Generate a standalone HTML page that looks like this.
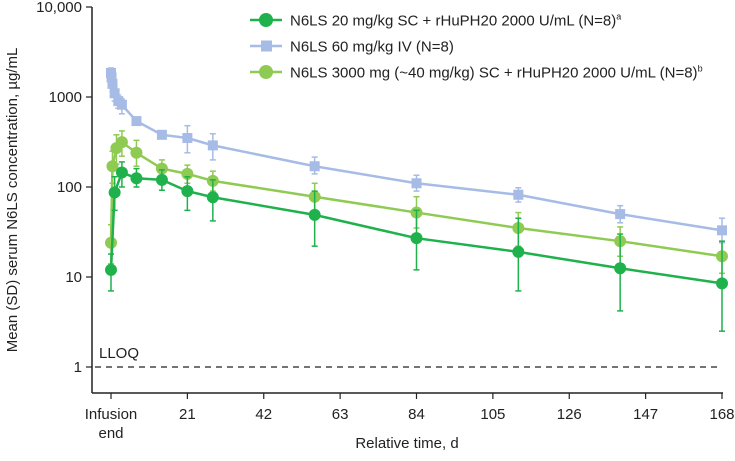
<!DOCTYPE html>
<html><head><meta charset="utf-8"><style>
body{margin:0;background:#fff;font-family:"Liberation Sans",Arial,sans-serif}
svg text{font-family:"Liberation Sans",Arial,sans-serif}
</style></head><body>
<svg id="chart" width="735" height="456" viewBox="0 0 735 456" xmlns="http://www.w3.org/2000/svg"></svg>
<script>
const days = [0, 1, 3, 7, 14, 21, 28, 56, 84, 112, 140, 168];
const sc20 = [12, 87, 145, 125, 120, 90, 77, 49, 27, 19, 12.5, 8.5];
const sc20Lo = [7, 55, 100, 100, 92, 55, 42, 22, 12, 7, 4.2, 2.5];
const sc20Hi = [18, 130, 190, 160, 155, 130, 120, 90, 55, 45, 30, 25];
const ivDays = [0, 0.15, 0.4, 1, 2, 3, 7, 14, 21, 28, 56, 84, 112, 140, 168];
const iv60 = [1850, 1650, 1400, 1100, 900, 820, 540, 380, 350, 290, 170, 110, 82, 50, 33];
const iv60Lo = [1500, 1350, 1150, 900, 750, 650, 500, 350, 240, 200, 140, 90, 68, 40, 24];
const iv60Hi = [2100, 1950, 1650, 1300, 1050, 950, 580, 410, 480, 390, 215, 135, 98, 62, 45];
const scDays = [0, 0.4, 1.5, 3, 7, 14, 21, 28, 56, 84, 112, 140, 168];
const sc3000 = [24, 170, 270, 315, 240, 160, 140, 117, 78, 52, 35, 25, 17];
const sc3000Lo = [14, 110, 180, 220, 170, 120, 110, 90, 55, 35, 22, 17, 11];
const sc3000Hi = [38, 250, 380, 420, 330, 200, 175, 150, 110, 78, 52, 36, 25];
const yTicks = [1, 10, 100, 1000, 10000];
const yTickLabels = ["1", "10", "100", "1000", "10,000"];
const xTicks = [0, 21, 42, 63, 84, 105, 126, 147, 168];

const NS = "http://www.w3.org/2000/svg";
const svg = document.getElementById("chart");
const X = d => 111 + d * (611 / 168);
const Y = v => 367 - Math.log10(v) * 90;
const FS = 15;
function mk(tag, attrs, parent) {
  const e = document.createElementNS(NS, tag);
  for (const k in attrs) e.setAttribute(k, attrs[k]);
  (parent || svg).appendChild(e);
  return e;
}
let g = mk("g", {});


mk("line", {x1: 92, y1: 7, x2: 92, y2: 393, stroke: "#222", "stroke-width": 1.5}, g);
mk("line", {x1: 92, y1: 393, x2: 723, y2: 393, stroke: "#222", "stroke-width": 1.5}, g);
yTicks.forEach((t, i) => {
  mk("line", {x1: 86, y1: Y(t), x2: 92, y2: Y(t), stroke: "#222", "stroke-width": 1.2}, g);
  const tx = mk("text", {x: 82, y: Y(t) + 5, "text-anchor": "end", "font-size": FS, fill: "#222"}, g);
  tx.textContent = yTickLabels[i];
  
  
});
xTicks.forEach(t => {
  mk("line", {x1: X(t), y1: 393, x2: X(t), y2: 399, stroke: "#222", "stroke-width": 1.2}, g);
  const tx = mk("text", {x: X(t), y: 419, "text-anchor": "middle", "font-size": FS, fill: "#222"}, g);
  tx.textContent = t === 0 ? "Infusion" : String(t);
  
  
});
let e2 = mk("text", {x: X(0), y: 438, "text-anchor": "middle", "font-size": FS, fill: "#222"}, g);
e2.textContent = "end";


let xt = mk("text", {x: 407, y: 448, "text-anchor": "middle", "font-size": FS, fill: "#222"});
xt.textContent = "Relative time, d";


let yt = mk("text", {x: 0, y: 0, transform: "translate(17,200) rotate(-90)", "text-anchor": "middle", "font-size": FS, fill: "#222"});
yt.textContent = "Mean (SD) serum N6LS concentration, µg/mL";


let ll = mk("line", {x1: 95, y1: Y(1), x2: 722, y2: Y(1), stroke: "#222", "stroke-width": 1.3, "stroke-dasharray": "6,5"});


let lt = mk("text", {x: 99, y: Y(1) - 9, "font-size": FS, fill: "#222"});
lt.textContent = "LLOQ";



function series(name, xs, vs, lo, hi, color, shape) {
  const sg = mk("g", {});
  
  
  xs.forEach((d, i) => {
    const x = X(d);
    mk("line", {x1: x, y1: Y(lo[i]), x2: x, y2: Y(hi[i]), stroke: color, "stroke-width": 1.5}, sg);
    mk("line", {x1: x - 3, y1: Y(lo[i]), x2: x + 3, y2: Y(lo[i]), stroke: color, "stroke-width": 1.5}, sg);
    mk("line", {x1: x - 3, y1: Y(hi[i]), x2: x + 3, y2: Y(hi[i]), stroke: color, "stroke-width": 1.5}, sg);
  });
  mk("polyline", {points: xs.map((d, i) => X(d) + "," + Y(vs[i])).join(" "), fill: "none", stroke: color, "stroke-width": 2.5}, sg);
  xs.forEach((d, i) => {
    let m;
    if (shape === "sq") m = mk("rect", {x: X(d) - 5, y: Y(vs[i]) - 5, width: 10, height: 10, fill: color}, sg);
    else m = mk("circle", {cx: X(d), cy: Y(vs[i]), r: 6, fill: color}, sg);
    
    
  });
}
series("series-iv60", ivDays, iv60, iv60Lo, iv60Hi, "#a6bbe6", "sq");
series("series-sc3000", scDays, sc3000, sc3000Lo, sc3000Hi, "#8fcb52", "c");
series("series-sc20", days, sc20, sc20Lo, sc20Hi, "#1fb14c", "c");

const legItems = [
  ["N6LS 20 mg/kg SC + rHuPH20 2000 U/mL (N=8)", "a", "#1fb14c", "c"],
  ["N6LS 60 mg/kg IV (N=8)", "", "#a6bbe6", "sq"],
  ["N6LS 3000 mg (~40 mg/kg) SC + rHuPH20 2000 U/mL (N=8)", "b", "#8fcb52", "c"]
];
legItems.forEach((it, i) => {
  const y = 20 + i * 26;
  const lg = mk("g", {});
  
  
  mk("line", {x1: 250, y1: y, x2: 282, y2: y, stroke: it[2], "stroke-width": 2.5}, lg);
  if (it[3] === "sq") mk("rect", {x: 261, y: y - 5.5, width: 11, height: 11, fill: it[2]}, lg);
  else mk("circle", {cx: 266, cy: y, r: 7, fill: it[2]}, lg);
  const t = mk("text", {x: 290, y: y + 5.5, "font-size": FS, fill: "#222"}, lg);
  t.textContent = it[0];
  if (it[1]) {
    const s = mk("tspan", {"font-size": 9, dy: -6}, t);
    s.textContent = it[1];
  }
});
</script>
</body></html>
